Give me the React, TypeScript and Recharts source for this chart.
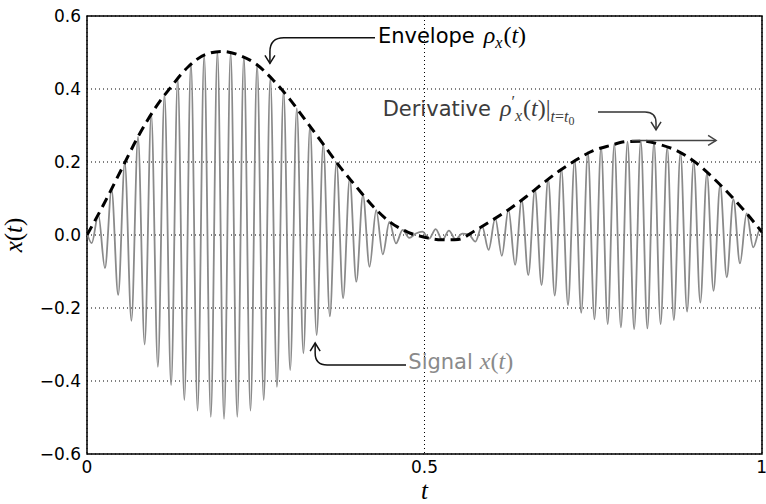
import { CartesianGrid, Line, LineChart, ReferenceArea, XAxis, YAxis } from 'recharts';

// Carrier extrema: one trough and one peak per carrier period.
const FIRST_TROUGH_T = 0.007;
const CARRIER_PERIOD = 0.0196;

const TROUGHS = [
  -0.022, -0.091, -0.164, -0.235, -0.3, -0.361, -0.411, -0.452, -0.481, -0.498,
  -0.504, -0.498, -0.481, -0.452, -0.416, -0.37, -0.324, -0.274, -0.223, -0.173,
  -0.128, -0.087, -0.053, -0.023, -0.008, 0.009, 0.016, 0.012, 0.004, -0.018,
  -0.041, -0.057, -0.082, -0.11, -0.137, -0.166, -0.192, -0.213, -0.231, -0.244,
  -0.253, -0.258, -0.256, -0.244, -0.233, -0.21, -0.185, -0.153, -0.116, -0.078,
  -0.034,
];

const PEAKS = [
  0.056, 0.125, 0.198, 0.269, 0.331, 0.385, 0.427, 0.47, 0.493, 0.502,
  0.5, 0.488, 0.466, 0.429, 0.395, 0.347, 0.299, 0.249, 0.199, 0.155,
  0.11, 0.068, 0.036, 0.014, 0.004, -0.01, -0.014, -0.012, 0.002, 0.025,
  0.046, 0.07, 0.096, 0.125, 0.153, 0.181, 0.205, 0.227, 0.24, 0.249,
  0.256, 0.258, 0.253, 0.24, 0.226, 0.201, 0.169, 0.137, 0.098, 0.059,
  0.014,
];

const SIGNAL_START = 0.005;
const SIGNAL_END = 0.012;

// Envelope sampled every 0.025 in t.
const ENVELOPE_STEP = 0.025;
const ENVELOPE = [
  0.0, 0.085, 0.176, 0.267, 0.345, 0.407, 0.461, 0.494, 0.503, 0.493,
  0.469, 0.426, 0.373, 0.311, 0.249, 0.186, 0.13, 0.076, 0.034, 0.008,
  -0.006, -0.013, -0.012, 0.012, 0.04, 0.07, 0.104, 0.141, 0.176, 0.206,
  0.231, 0.245, 0.256, 0.257, 0.247, 0.23, 0.201, 0.161, 0.115, 0.064,
  0.008,
];

const X_TICKS = [0, 0.5, 1];
const Y_TICKS = [-0.6, -0.4, -0.2, 0, 0.2, 0.4, 0.6];

const W = 766;
const H = 504;
const MARGIN = { top: 16, right: 4, bottom: 10, left: 7 };
const Y_AXIS_W = 80;
const X_AXIS_H = 40;
const PLOT_LEFT = MARGIN.left + Y_AXIS_W;
const PLOT_TOP = MARGIN.top;
const PLOT_W = W - MARGIN.right - PLOT_LEFT;
const PLOT_H = H - MARGIN.bottom - X_AXIS_H - PLOT_TOP;

const SANS = "'DejaVu Sans', sans-serif";
const SERIF = "'Liberation Serif', 'DejaVu Serif', serif";

const signalData = [{ t: 0, x: SIGNAL_START }];
TROUGHS.forEach((lo, k) => {
  signalData.push({ t: FIRST_TROUGH_T + k * CARRIER_PERIOD, x: lo });
  signalData.push({ t: FIRST_TROUGH_T + (k + 0.5) * CARRIER_PERIOD, x: PEAKS[k] });
});
signalData.push({ t: 1, x: SIGNAL_END });

const envelopeData = ENVELOPE.map((v, i) => ({ t: i * ENVELOPE_STEP, rho: v }));

// annotation helpers, data units -> pixels
const toX = (t: number) => PLOT_LEFT + t * PLOT_W;
const toY = (v: number) => PLOT_TOP + ((0.6 - v) / 1.2) * PLOT_H;

function fmtY(v: number) {
  const s = Math.abs(v).toFixed(1);
  return v < -1e-9 ? `\u2212${s}` : s;
}

// horizontal run that bends into a vertical arrow at the tip
function bentArrow(x0: number, y0: number, tx: number, ty: number, r: number) {
  const dirX = tx < x0 ? 1 : -1;
  const dirY = ty > y0 ? 1 : -1;
  const line = `M${x0},${y0} H${tx + dirX * r} Q${tx},${y0} ${tx},${y0 + dirY * r} V${ty}`;
  const head = `M${tx - 5},${ty - dirY * 8} L${tx},${ty} L${tx + 5},${ty - dirY * 8}`;
  return { line, head };
}

const mathItalic = { fontFamily: SERIF, fontStyle: 'italic' } as const;
const mathUpright = { fontFamily: SERIF, fontStyle: 'normal' } as const;

function Annotations() {
  const env = bentArrow(toX(0.4267), toY(0.5405), toX(0.271), toY(0.47), 14);
  const der = bentArrow(toX(0.757), toY(0.337), toX(0.843), toY(0.288), 11);
  const sig = bentArrow(toX(0.4726), toY(-0.356), toX(0.338), toY(-0.296), 12);
  const hx0 = toX(0.807);
  const hx1 = toX(0.932);
  const hy = toY(0.259);

  return (
    <svg
      width={W}
      height={H}
      style={{ position: 'absolute', left: 0, top: 0, pointerEvents: 'none' }}
    >
      <g fill="none" strokeWidth={1.5}>
        <path d={env.line} stroke="#111" />
        <path d={env.head} stroke="#111" />
        <path d={der.line} stroke="#333" />
        <path d={der.head} stroke="#333" />
        <path d={`M${hx0},${hy} H${hx1}`} stroke="#444" />
        <path d={`M${hx1 - 8},${hy - 5} L${hx1},${hy} L${hx1 - 8},${hy + 5}`} stroke="#444" />
        <path d={sig.line} stroke="#111" />
        <path d={sig.head} stroke="#111" />
      </g>

      <text x={toX(0.431)} y={toY(0.525)} style={{ fontFamily: SANS, fontSize: 21 }} fill="#000">
        Envelope
        <tspan dx={9} style={{ ...mathItalic, fontSize: 24 }}>ρ</tspan>
        <tspan dy={5} style={{ ...mathItalic, fontSize: 16 }}>x</tspan>
        <tspan dy={-5} dx={1} style={{ ...mathUpright, fontSize: 24 }}>(</tspan>
        <tspan style={{ ...mathItalic, fontSize: 24 }}>t</tspan>
        <tspan style={{ ...mathUpright, fontSize: 24 }}>)</tspan>
      </text>

      <text x={toX(0.438)} y={toY(0.326)} style={{ fontFamily: SANS, fontSize: 21 }} fill="#3c3c3c">
        Derivative
        <tspan dx={9} style={{ ...mathItalic, fontSize: 24 }}>ρ</tspan>
        <tspan dy={-9} style={{ ...mathUpright, fontSize: 16 }}>′</tspan>
        <tspan dy={14} style={{ ...mathItalic, fontSize: 16 }}>x</tspan>
        <tspan dy={-5} dx={1} style={{ ...mathUpright, fontSize: 24 }}>(</tspan>
        <tspan style={{ ...mathItalic, fontSize: 24 }}>t</tspan>
        <tspan style={{ ...mathUpright, fontSize: 24 }}>)|</tspan>
        <tspan dy={6} style={{ ...mathItalic, fontSize: 16 }}>t</tspan>
        <tspan style={{ ...mathUpright, fontSize: 16 }}>=</tspan>
        <tspan style={{ ...mathItalic, fontSize: 16 }}>t</tspan>
        <tspan dy={3} style={{ ...mathUpright, fontSize: 12 }}>0</tspan>
      </text>

      <text x={toX(0.476)} y={toY(-0.368)} style={{ fontFamily: SANS, fontSize: 21 }} fill="#8a8a8a">
        Signal
        <tspan dx={7} style={{ ...mathItalic, fontSize: 24 }}>x</tspan>
        <tspan style={{ ...mathUpright, fontSize: 24 }}>(</tspan>
        <tspan style={{ ...mathItalic, fontSize: 24 }}>t</tspan>
        <tspan style={{ ...mathUpright, fontSize: 24 }}>)</tspan>
      </text>

      {/* axis titles */}
      <text
        x={0}
        y={0}
        transform={`translate(${MARGIN.left + 15},${PLOT_TOP + PLOT_H / 2}) rotate(-90)`}
        textAnchor="middle"
        style={{ ...mathUpright, fontSize: 25 }}
        fill="#000"
      >
        <tspan style={mathItalic}>x</tspan>(<tspan style={mathItalic}>t</tspan>)
      </text>
      <text
        x={PLOT_LEFT + PLOT_W / 2}
        y={H - 5}
        textAnchor="middle"
        style={{ ...mathItalic, fontSize: 25 }}
        fill="#000"
      >
        t
      </text>
    </svg>
  );
}

export default function App() {
  return (
    <div style={{ position: 'absolute', left: 0, top: 0, width: W, height: H, background: '#fff' }}>
      <LineChart width={W} height={H} margin={MARGIN}>
        <CartesianGrid stroke="#000" strokeDasharray="1 3" strokeWidth={1} />
        <XAxis
          type="number"
          dataKey="t"
          domain={[0, 1]}
          ticks={X_TICKS}
          tickFormatter={(v: number) => String(v)}
          allowDataOverflow
          height={X_AXIS_H}
          axisLine={false}
          tickLine={false}
          tickSize={0}
          tickMargin={7}
          tick={{ fill: '#000', fontSize: 17, fontFamily: 'DejaVu Sans' }}
        />
        <YAxis
          type="number"
          domain={[-0.6, 0.6]}
          ticks={Y_TICKS}
          tickFormatter={fmtY}
          allowDataOverflow
          width={Y_AXIS_W}
          axisLine={false}
          tickLine={false}
          tickSize={0}
          tickMargin={6}
          tick={{ fill: '#000', fontSize: 17, fontFamily: 'DejaVu Sans' }}
        />
        <Line
          data={signalData}
          dataKey="x"
          type="monotone"
          stroke="#8a8a8a"
          strokeWidth={1.8}
          dot={false}
          activeDot={false}
          isAnimationActive={false}
        />
        <Line
          data={envelopeData}
          dataKey="rho"
          type="monotone"
          stroke="#000"
          strokeWidth={3}
          strokeDasharray="10 6"
          dot={false}
          activeDot={false}
          isAnimationActive={false}
        />
        <ReferenceArea x1={0} x2={1} y1={-0.6} y2={0.6} fill="none" stroke="#000" strokeWidth={1.5} />
      </LineChart>
      <Annotations />
    </div>
  );
}
